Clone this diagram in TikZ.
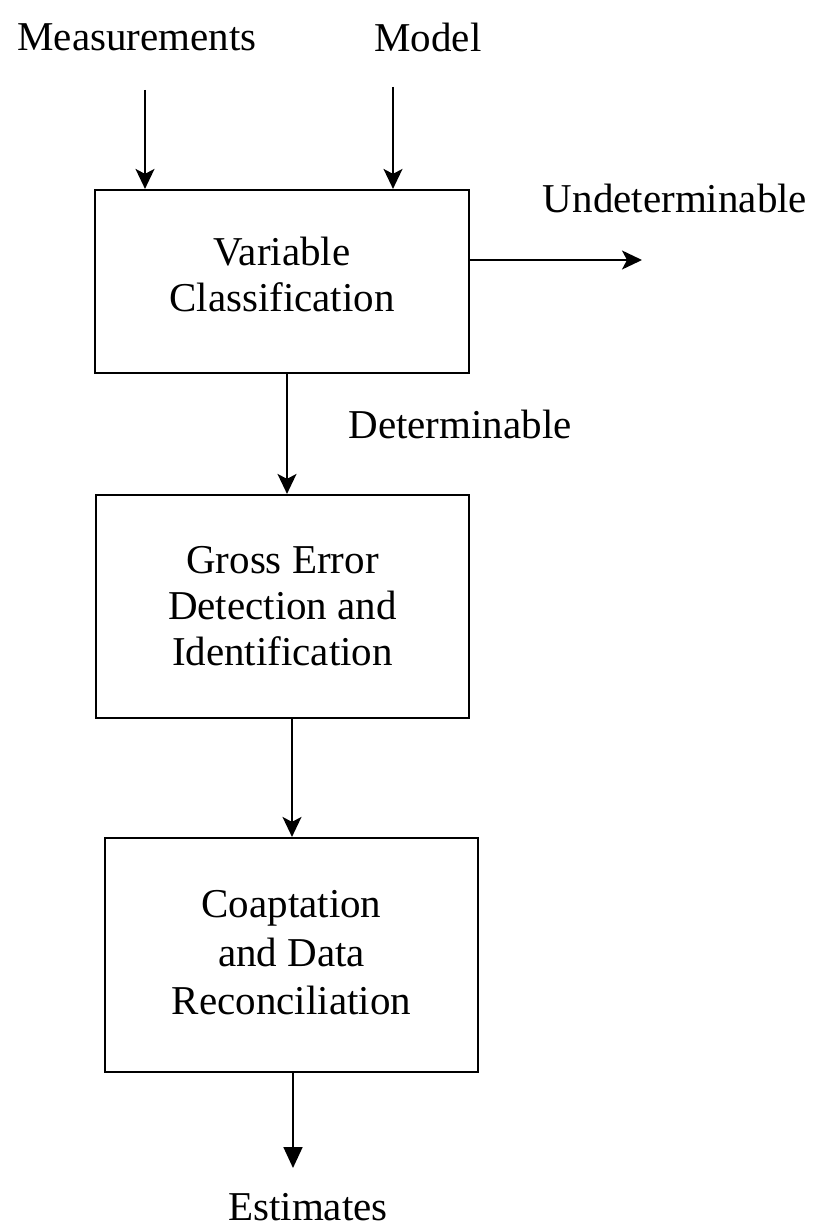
\documentclass[tikz,border=0pt]{standalone}
\usepackage{fontspec}
\setmainfont{Liberation Serif}
\usetikzlibrary{arrows.meta}
\begin{document}
\begin{tikzpicture}[x=1pt,y=-1pt,
  every node/.style={font=\fontsize{41}{46}\selectfont},
  stage/.style={draw,line width=2.2pt,rectangle,align=center,inner sep=0pt},
  lbl/.style={inner sep=0pt,align=center},
  flow/.style={line width=1.8pt,-{Stealth[length=20pt,width=19pt,inset=5pt]}},
  outflow/.style={line width=1.8pt,-{Triangle[length=21pt,width=19pt]}}]
  \useasboundingbox (0,0) rectangle (818,1228);

  % inputs
  \node[lbl] (meas) at (137,37.5) {Measurements};
  \node[lbl] (model) at (428,37.5) {Model};
  \coordinate (min) at (145,90);
  \coordinate (modin) at (393,87);

  % processing stages
  \node[stage,minimum width=374pt,minimum height=183pt,text depth=14pt] (vc) at (282,281.5)
    {Variable\\Classification};
  \node[stage,minimum width=373pt,minimum height=223pt] (gd) at (282.5,606.5)
    {Gross Error\\Detection and\\Identification};
  \node[stage,minimum width=373pt,minimum height=234pt,
        font=\fontsize{41}{48.5}\selectfont,text depth=5pt] (dr) at (291.5,955)
    {Coaptation\\and Data\\Reconciliation};

  % outputs
  \coordinate (und) at (642,260);
  \node[lbl] (undl) at (675,198) {Undeterminable};
  \node[lbl] (detl) at (460,424) {Determinable};
  \coordinate (est) at (293,1168);
  \node[lbl] (estl) at (308,1207) {Estimates};

  % connectors
  \draw[flow] (min) -- (min |- vc.north);
  \draw[flow] (modin) -- (modin |- vc.north);
  \draw[flow] (vc.east |- und) -- (und);
  \draw[flow] (vc.south -| 287,0) -- (gd.north -| 287,0);
  \draw[flow] (gd.south -| 292,0) -- (dr.north -| 292,0);
  \draw[outflow] (dr.south -| est) -- (est);
\end{tikzpicture}
\end{document}
